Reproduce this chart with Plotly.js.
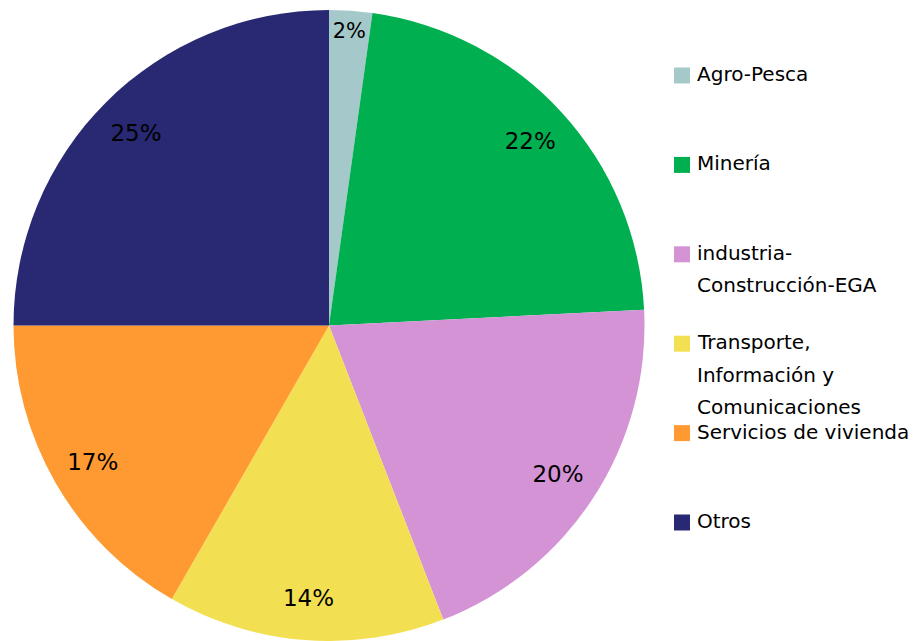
<!DOCTYPE html>
<html>
<head>
<meta charset="utf-8">
<script src="https://cdn.plot.ly/plotly-3.0.1.min.js"></script>
<style>html,body{margin:0;padding:0;background:#fff;overflow:hidden;}</style>
</head>
<body>
<div id="chart" style="width:914px;height:641px;"></div>
<script>
// Data
const labels = ["Agro-Pesca", "Minería", "industria-<br>Construcción-EGA", "Transporte,<br>Información y<br>Comunicaciones", "Servicios de vivienda", "Otros"];
const values = [2.2, 22.0, 19.9, 14.2, 16.7, 25.0];
const colors = ["#A5C8CA", "#00B050", "#D393D4", "#F3E052", "#FF9A33", "#282873"];

const W = 914, H = 641;
const FONT = "DejaVu Sans, Verdana, sans-serif";

// custom legend (layout only)
const shapes = [], annotations = [];
const legX = 674, legTextX = 695, legTop = 74, legStep = 89.4, lineStep = 32.6, sq = 16;
labels.forEach((lab, i) => {
  const yc = legTop + i * legStep;
  shapes.push({type: "rect", xref: "paper", yref: "paper",
    x0: legX / W, x1: (legX + sq) / W,
    y0: 1 - (yc + 1.5 + sq / 2) / H, y1: 1 - (yc + 1.5 - sq / 2) / H,
    fillcolor: colors[i], line: {width: 0}});
  lab.split("<br>").forEach((ln, k) => {
    annotations.push({xref: "paper", yref: "paper", x: legTextX / W, y: 1 - (yc + k * lineStep) / H,
      xanchor: "left", yanchor: "middle", text: ln, showarrow: false,
      font: {family: FONT, size: 20, color: "#000"}});
  });
});

const dom = {x: [13.5 / W, 644.5 / W], y: [0, (H - 10) / H]};

const pieTrace = {
  type: "pie",
  labels: labels,
  values: values,
  sort: false,
  direction: "clockwise",
  rotation: 0,
  marker: {colors: colors, line: {width: 0}},
  textinfo: "none",
  showlegend: false,
  domain: dom,
  hoverinfo: "label+percent"
};

// transparent ring overlay that carries the percentage labels near the rim
const labelTrace = {
  type: "pie",
  labels: labels,
  values: values,
  sort: false,
  direction: "clockwise",
  rotation: 0,
  hole: 0.73,
  marker: {colors: values.map(() => "rgba(0,0,0,0)"), line: {width: 0}},
  texttemplate: "%{percent:.0%}",
  textposition: "inside",
  insidetextorientation: "horizontal",
  textfont: {family: FONT, size: 23, color: "#000"},
  showlegend: false,
  domain: dom,
  hoverinfo: "skip"
};

Plotly.newPlot("chart", [pieTrace, labelTrace], {
  width: W, height: H,
  margin: {l: 0, r: 0, t: 0, b: 0},
  paper_bgcolor: "#fff",
  showlegend: false,
  shapes: shapes,
  annotations: annotations
}, {displayModeBar: false, staticPlot: true});
</script>
</body>
</html>
